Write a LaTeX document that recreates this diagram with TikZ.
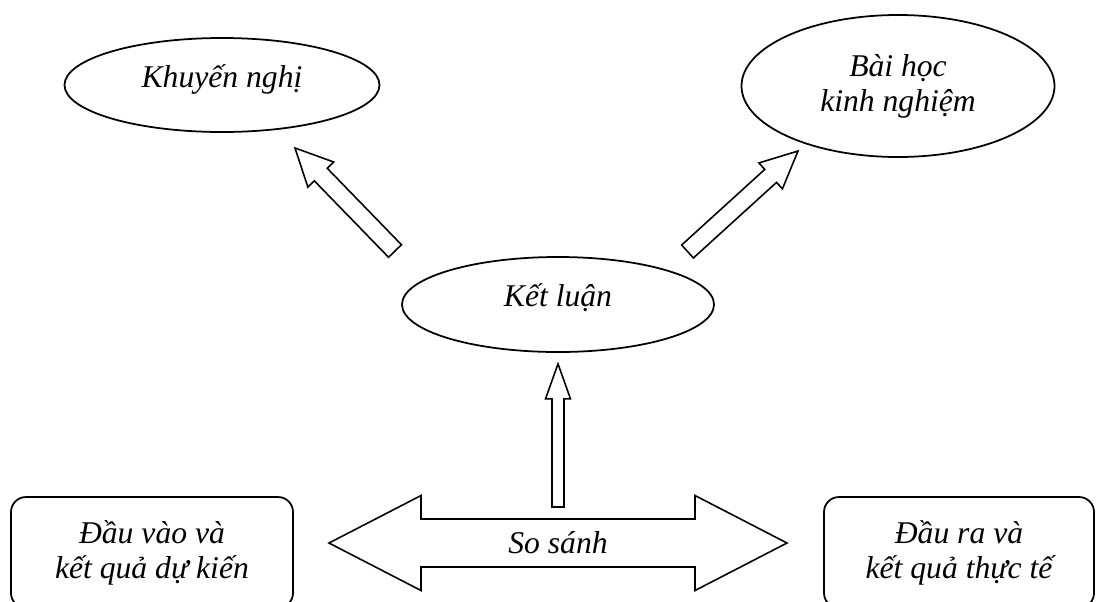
\documentclass[tikz,border=0pt]{standalone}
\usepackage{fontspec}
\setmainfont{Liberation Serif}
\usetikzlibrary{shapes.geometric, calc}

% 空心箭头: 尾, 尖, 半杆宽, 半头宽, 头长
\newcommand{\blockarrow}[5]{%
    \coordinate (ba-h) at ($(#2)!#5!(#1)$);
    \draw[blk] ($(#1)!#3!90:(#2)$) -- ($(ba-h)!#3!90:(#2)$) -- ($(ba-h)!#4!90:(#2)$) -- (#2)
        -- ($(ba-h)!#4!-90:(#2)$) -- ($(ba-h)!#3!-90:(#2)$) -- ($(#1)!#3!-90:(#2)$) -- cycle;
}

\begin{document}
\begin{tikzpicture}[x=0.2mm, y=-0.2mm, line width=1pt,
    txt/.style={font=\fontsize{18}{20}\selectfont\itshape},
    ell/.style={txt, draw, ellipse, inner sep=0pt},
    one/.style={text height=6.3pt, text depth=4pt},
    box/.style={txt, draw, rounded corners=3mm, inner sep=0pt, align=center,
        minimum height=22.2mm},
    blk/.style={line width=0.9pt, line join=miter}]
    \useasboundingbox (0,0) rectangle (1096,601);

    % 椭圆
    \node[ell, one, minimum width=63mm, minimum height=18.8mm] (khuyen) at (222,85) {Khuyến nghị};
    \node[ell, align=center, minimum width=62.6mm, minimum height=28.4mm] (baihoc) at (898,86) {Bài học\\kinh nghiệm};
    \node[ell, one, minimum width=62.4mm, minimum height=19mm] (ketluan) at (558,304.5) {Kết luận};

    % 两侧方框
    \node[box, minimum width=56.4mm] (dauvao) at (152,552.5) {Đầu vào và\\kết quả dự kiến};
    \node[box, minimum width=54mm] (daura) at (959,552.5) {Đầu ra và\\kết quả thực tế};

    % 比较: 双向箭头
    \node[txt] (sosanh) at (558,543) {So sánh};
    \draw[blk] ($(sosanh)+(-229,0)$) -- ++(92,-47.5) -- ++(0,23.5) -- ++(274,0) -- ++(0,-23.5)
        -- ++(92,47.5) -- ++(-92,47.5) -- ++(0,-23.5) -- ++(-274,0) -- ++(0,23.5) -- cycle;

    % 向上箭头
    \coordinate (v-tail) at ($(sosanh)+(0,-36)$);
    \coordinate (v-tip) at ($(ketluan.south)+(0,11)$);
    \blockarrow{v-tail}{v-tip}{1.2mm}{2.5mm}{7mm}

    % 斜箭头
    \coordinate (l-tail) at (395,251);
    \coordinate (l-tip) at (295,148);
    \blockarrow{l-tail}{l-tip}{1.8mm}{3.6mm}{7.4mm}
    \coordinate (r-tail) at (687.5,251.5);
    \coordinate (r-tip) at (798,151);
    \blockarrow{r-tail}{r-tip}{1.75mm}{3.5mm}{7.4mm}
\end{tikzpicture}
\end{document}
